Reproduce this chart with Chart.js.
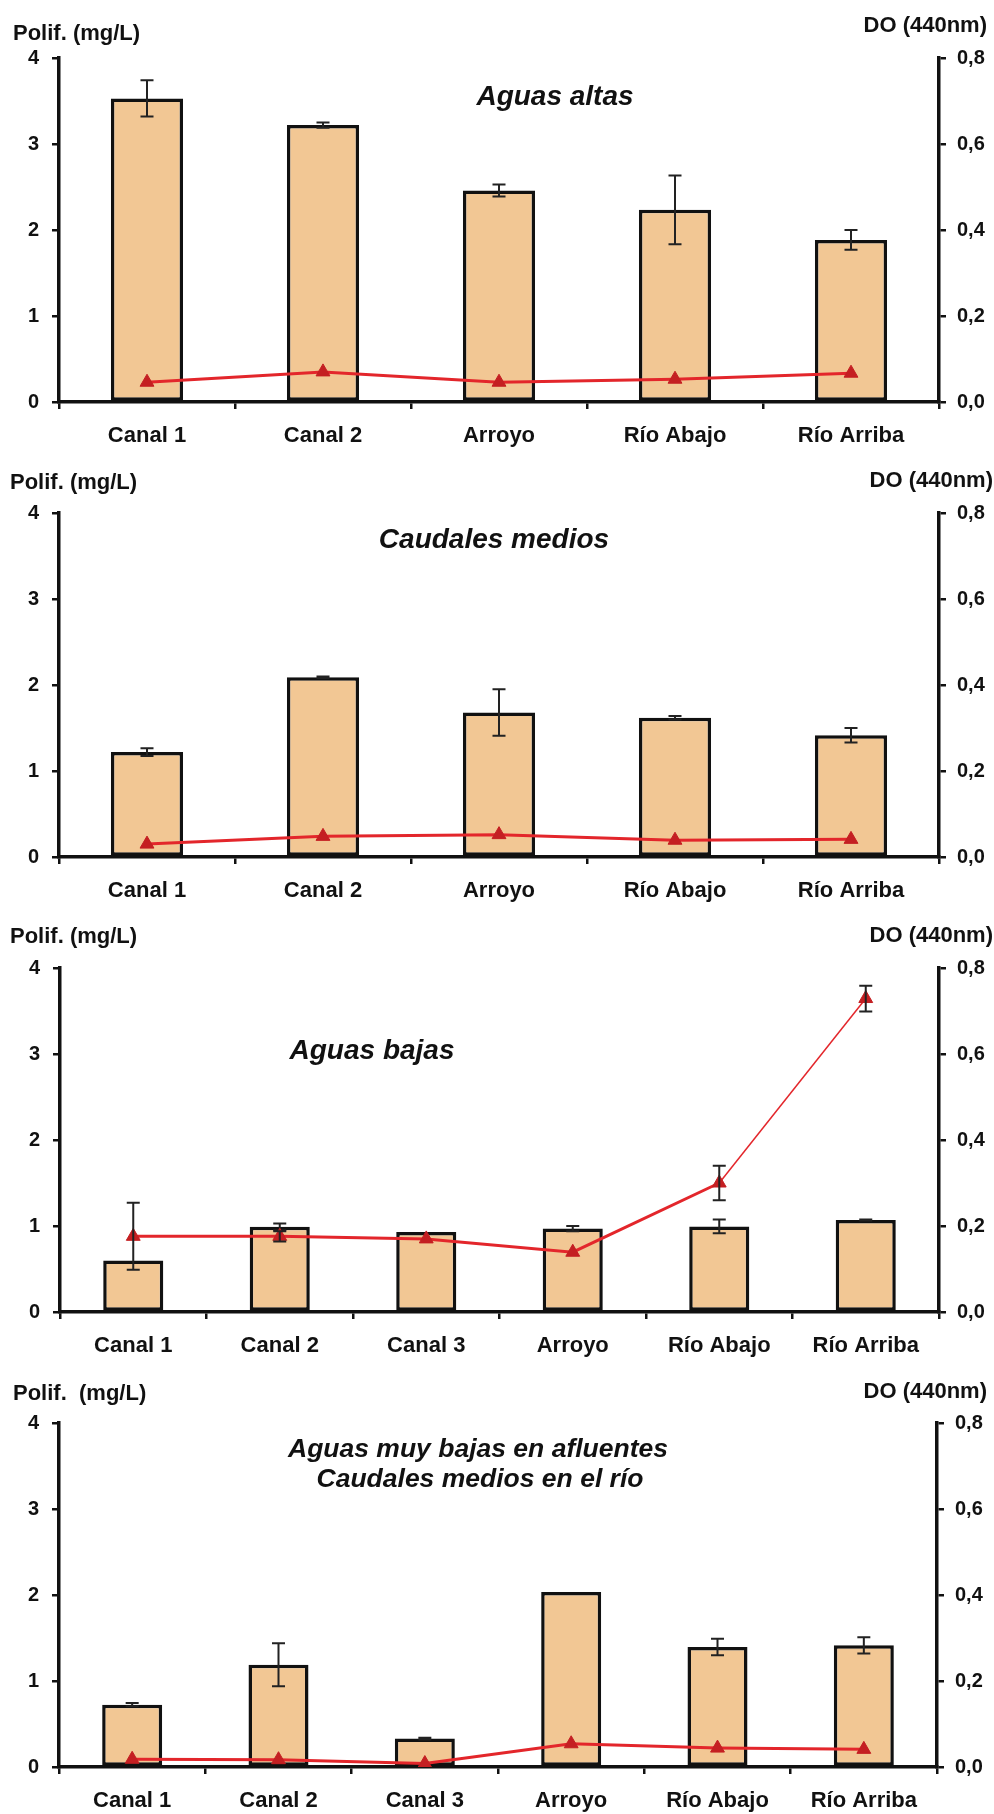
<!DOCTYPE html>
<html>
<head>
<meta charset="utf-8">
<script src="https://cdn.jsdelivr.net/npm/chart.js@4.4.1/dist/chart.umd.min.js"></script>
<style>
  html, body { margin: 0; padding: 0; background: #fff; }
  #wrap { position: relative; width: 994px; height: 1814px; overflow: hidden; }
  #wrap canvas { position: absolute; left: 0; }
</style>
</head>
<body>
<div id="wrap">
  <canvas id="c1" width="994" height="455" style="top:0px"></canvas>
  <canvas id="c2" width="994" height="455" style="top:455px"></canvas>
  <canvas id="c3" width="994" height="455" style="top:910px"></canvas>
  <canvas id="c4" width="994" height="449" style="top:1365px"></canvas>
</div>
<script>
// Sampling sites
const sitesRiver = ['Canal 1', 'Canal 2', 'Arroyo', 'Río Abajo', 'Río Arriba'];
const sitesAll = ['Canal 1', 'Canal 2', 'Canal 3', 'Arroyo', 'Río Abajo', 'Río Arriba'];

// Aguas altas
const polifAltas = [3.53, 3.22, 2.46, 2.235, 1.885];
const polifAltasErr = [0.21, 0.03, 0.07, 0.40, 0.115];
const doAltas = [0.046, 0.070, 0.046, 0.053, 0.067];
const doAltasErr = [0, 0, 0, 0, 0];

// Caudales medios
const polifMedios = [1.22, 2.09, 1.68, 1.62, 1.415];
const polifMediosErr = [0.045, 0.01, 0.27, 0.02, 0.085];
const doMedios = [0.030, 0.048, 0.052, 0.039, 0.041];
const doMediosErr = [0, 0, 0, 0, 0];

// Aguas bajas
const polifBajas = [0.60, 0.99, 0.93, 0.97, 0.995, 1.07];
const polifBajasErr = [0, 0.04, 0, 0.03, 0.08, 0.005];
const doBajas = [0.176, 0.176, 0.170, 0.139, 0.300, 0.729];
const doBajasErr = [0.078, 0.012, 0, 0, 0.04, 0.03];

// Aguas muy bajas en afluentes / caudales medios en el río
const polifMuyBajas = [0.725, 1.19, 0.33, 2.035, 1.395, 1.415];
const polifMuyBajasErr = [0.02, 0.25, 0.01, 0, 0.095, 0.095];
const doMuyBajas = [0.018, 0.017, 0.008, 0.054, 0.044, 0.041];
const doMuyBajasErr = [0, 0, 0, 0, 0, 0];

// Axis tick labels
const polifTicks = ['0', '1', '2', '3', '4'];
const doTicks = ['0,0', '0,2', '0,4', '0,6', '0,8'];

const FONT = '"Liberation Sans", Arial, Helvetica, sans-serif';
const BAR_FILL = '#f2c794';
const LINE_RED = '#e3262b';
const MARK_RED = '#c41f22';
const INK = '#111111';

// Whiskers for any dataset carrying an "errors" array
const errorBars = {
  id: 'errorBars',
  afterDatasetDraw(chart, args) {
    const ds = chart.data.datasets[args.index];
    if (!ds.errors) return;
    const meta = args.meta;
    const scale = chart.scales[meta.yAxisID];
    const ctx = chart.ctx;
    ctx.save();
    ctx.strokeStyle = '#222';
    ctx.lineWidth = 2;
    meta.data.forEach((el, i) => {
      const e = ds.errors[i];
      if (!e) return;
      const x = el.x;
      const yT = scale.getPixelForValue(ds.data[i] + e);
      const yB = scale.getPixelForValue(ds.data[i] - e);
      ctx.beginPath();
      ctx.moveTo(x, yT); ctx.lineTo(x, yB);
      ctx.moveTo(x - 6.5, yT); ctx.lineTo(x + 6.5, yT);
      ctx.moveTo(x - 6.5, yB); ctx.lineTo(x + 6.5, yB);
      ctx.stroke();
    });
    ctx.restore();
  }
};

// Axis captions and the in-plot heading
const panelText = {
  id: 'panelText',
  afterDraw(chart, args, opts) {
    const ctx = chart.ctx;
    ctx.save();
    ctx.fillStyle = INK;
    ctx.textBaseline = 'middle';
    ctx.font = 'bold 22px ' + FONT;
    ctx.textAlign = 'left';
    ctx.fillText(opts.leftTitle, opts.leftTitleX, opts.leftTitleY);
    ctx.textAlign = 'right';
    ctx.fillText(opts.rightTitle, opts.rightTitleX, opts.rightTitleY);
    ctx.font = 'italic bold ' + opts.headingSize + 'px ' + FONT;
    ctx.textAlign = 'center';
    opts.heading.forEach((line, i) => {
      ctx.fillText(line, opts.headingX[i], opts.headingY[i]);
    });
    ctx.restore();
  }
};

function makePanel(id, cfg) {
  const canvas = document.getElementById(id);
  const H = canvas.height;
  const PLOT_TOP = 58, PLOT_H = 344;
  return new Chart(canvas, {
    data: {
      labels: cfg.labels,
      datasets: [
        {
          type: 'line',
          data: cfg.optical,
          errors: cfg.opticalErr,
          yAxisID: 'y1',
          order: 1,
          borderColor: LINE_RED,
          borderWidth: 3,
          tension: 0,
          pointStyle: 'triangle',
          pointRadius: 8,
          pointBorderWidth: 1,
          pointBackgroundColor: MARK_RED,
          pointBorderColor: MARK_RED,
          segment: cfg.thinLast ? {
            borderWidth: c => (c.p0DataIndex === cfg.labels.length - 2 ? 1.5 : 3)
          } : undefined
        },
        {
          type: 'bar',
          data: cfg.polif,
          errors: cfg.polifErr,
          yAxisID: 'y',
          order: 2,
          backgroundColor: BAR_FILL,
          borderColor: INK,
          borderWidth: 3.5,
          borderSkipped: false,
          barPercentage: 0.41,
          categoryPercentage: 1.0
        }
      ]
    },
    options: {
      responsive: false,
      animation: false,
      devicePixelRatio: 1,
      layout: { padding: { top: PLOT_TOP, left: 0, right: 0, bottom: 0 } },
      plugins: {
        legend: { display: false },
        tooltip: { enabled: false },
        panelText: cfg.text
      },
      scales: {
        x: {
          type: 'category',
          offset: true,
          grid: { display: true, offset: true, drawOnChartArea: false, drawTicks: true, tickLength: 7, color: INK, lineWidth: 2.5 },
          border: { display: true, color: INK, width: 3.5 },
          ticks: { color: INK, font: { family: FONT, size: 22, weight: 'bold' }, padding: 14, maxRotation: 0, autoSkip: false },
          afterFit: s => { s.height = H - PLOT_TOP - PLOT_H; }
        },
        y: {
          position: 'left',
          min: 0, max: 4,
          ticks: {
            stepSize: 1,
            color: INK,
            font: { family: FONT, size: 20, weight: 'bold' },
            padding: 13,
            callback: (v, i) => polifTicks[i]
          },
          grid: { display: true, drawOnChartArea: false, drawTicks: true, tickLength: 7, color: INK, lineWidth: 2.5 },
          border: { display: true, color: INK, width: 3.5 },
          afterFit: s => { s.width = cfg.leftX; }
        },
        y1: {
          position: 'right',
          min: 0, max: 0.8,
          ticks: {
            stepSize: 0.2,
            color: INK,
            font: { family: FONT, size: 20, weight: 'bold' },
            padding: 11,
            callback: (v, i) => doTicks[i]
          },
          grid: { display: true, drawOnChartArea: false, drawTicks: true, tickLength: 7, color: INK, lineWidth: 2.5 },
          border: { display: true, color: INK, width: 3.5 },
          afterFit: s => { s.width = 994 - cfg.rightX; }
        }
      }
    },
    plugins: [errorBars, panelText]
  });
}

makePanel('c1', {
  labels: sitesRiver, polif: polifAltas, polifErr: polifAltasErr,
  optical: doAltas, opticalErr: doAltasErr, leftX: 59, rightX: 939,
  text: {
    leftTitle: 'Polif. (mg/L)', leftTitleX: 13, leftTitleY: 34,
    rightTitle: 'DO (440nm)', rightTitleX: 987, rightTitleY: 26,
    heading: ['Aguas altas'], headingX: [555], headingY: [97], headingSize: 28
  }
});

makePanel('c2', {
  labels: sitesRiver, polif: polifMedios, polifErr: polifMediosErr,
  optical: doMedios, opticalErr: doMediosErr, leftX: 59, rightX: 939,
  text: {
    leftTitle: 'Polif. (mg/L)', leftTitleX: 10, leftTitleY: 28,
    rightTitle: 'DO (440nm)', rightTitleX: 993, rightTitleY: 26,
    heading: ['Caudales medios'], headingX: [494], headingY: [85], headingSize: 28
  }
});

makePanel('c3', {
  labels: sitesAll, polif: polifBajas, polifErr: polifBajasErr,
  optical: doBajas, opticalErr: doBajasErr, leftX: 60, rightX: 939, thinLast: true,
  text: {
    leftTitle: 'Polif. (mg/L)', leftTitleX: 10, leftTitleY: 27,
    rightTitle: 'DO (440nm)', rightTitleX: 993, rightTitleY: 26,
    heading: ['Aguas bajas'], headingX: [372], headingY: [141], headingSize: 28
  }
});

makePanel('c4', {
  labels: sitesAll, polif: polifMuyBajas, polifErr: polifMuyBajasErr,
  optical: doMuyBajas, opticalErr: doMuyBajasErr, leftX: 59, rightX: 937,
  text: {
    leftTitle: 'Polif.  (mg/L)', leftTitleX: 13, leftTitleY: 29,
    rightTitle: 'DO (440nm)', rightTitleX: 987, rightTitleY: 27,
    heading: ['Aguas muy bajas en afluentes', 'Caudales medios en el río'],
    headingX: [478, 480], headingY: [85, 115], headingSize: 26.5
  }
});
</script>
</body>
</html>
